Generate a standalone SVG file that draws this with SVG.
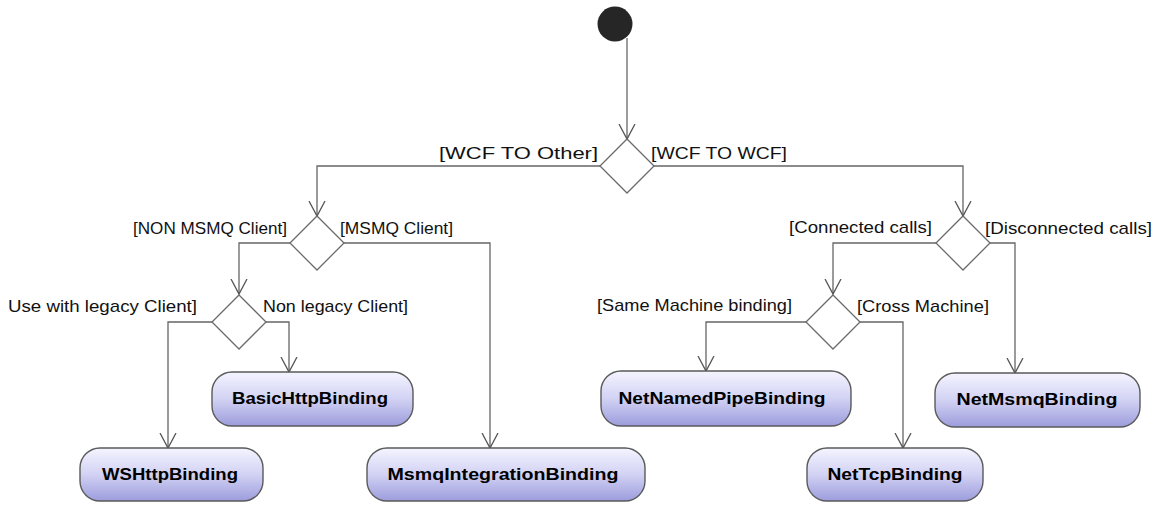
<svg xmlns="http://www.w3.org/2000/svg" width="1156" height="506" viewBox="0 0 1156 506">
  <defs>
    <linearGradient id="actFill" x1="0" y1="0" x2="0" y2="1">
      <stop offset="0" stop-color="#f4f4ff"/>
      <stop offset="0.5" stop-color="#d2d2f4"/>
      <stop offset="1" stop-color="#9c9cdc"/>
    </linearGradient>
    <marker id="open" viewBox="0 0 20 20" refX="15" refY="10" markerWidth="20" markerHeight="20" markerUnits="userSpaceOnUse" orient="auto">
      <path d="M0,2 L15,10 L0,18" fill="none" stroke="#555" stroke-width="1.3"/>
    </marker>
  </defs>
  <style>
    .guard { font-family: "Liberation Sans", Arial, sans-serif; font-size: 17px; fill: #111; }
    .act rect { fill: url(#actFill); stroke: #5a5a5a; stroke-width: 1.4; }
    .act text { font-family: "Liberation Sans", Arial, sans-serif; font-size: 17px; font-weight: bold; fill: #000; text-anchor: middle; }
    .decision polygon { fill: #fff; stroke: #6a6a6a; stroke-width: 1.3; }
    #flows path { fill: none; stroke: #666; stroke-width: 1.3; marker-end: url(#open); }
  </style>
  <rect width="1156" height="506" fill="#fff"/>

  <!-- control flows -->
  <g id="flows">
    <path d="M627,38 V139"/>
    <path d="M600,166 H317 V216"/>
    <path d="M654,166 H963 V216"/>
    <path d="M290,243 H239 V294"/>
    <path d="M343,243 H490 V448"/>
    <path d="M212,322 H168 V448"/>
    <path d="M266,322 H289 V372"/>
    <path d="M937,243 H833 V294"/>
    <path d="M990,243 H1015 V373"/>
    <path d="M807,322 H706 V371"/>
    <path d="M860,322 H903 V448"/>
  </g>

  <!-- initial node -->
  <g id="start">
    <circle cx="615" cy="24" r="17.5" fill="#262626"/>
  </g>

  <!-- decisions -->
  <g id="d-top" class="decision">
    <polygon points="627,139 654,166 627,193 600,166"/>
    <text class="guard" x="598" y="159" text-anchor="end" textLength="159" lengthAdjust="spacingAndGlyphs">[WCF TO Other]</text>
    <text class="guard" x="651" y="159" textLength="136" lengthAdjust="spacingAndGlyphs">[WCF TO WCF]</text>
  </g>
  <g id="d-client" class="decision">
    <polygon points="317,216 344,243 317,270 290,243"/>
    <text class="guard" x="287" y="234" text-anchor="end" textLength="154" lengthAdjust="spacingAndGlyphs">[NON MSMQ Client]</text>
    <text class="guard" x="340" y="234" textLength="113" lengthAdjust="spacingAndGlyphs">[MSMQ Client]</text>
  </g>
  <g id="d-legacy" class="decision">
    <polygon points="239,295 266,322 239,349 212,322"/>
    <text class="guard" x="197" y="312" text-anchor="end" textLength="189" lengthAdjust="spacingAndGlyphs">Use with legacy Client]</text>
    <text class="guard" x="263" y="312" textLength="145" lengthAdjust="spacingAndGlyphs">Non legacy Client]</text>
  </g>
  <g id="d-conn" class="decision">
    <polygon points="963,216 990,243 963,270 936,243"/>
    <text class="guard" x="932" y="233" text-anchor="end" textLength="143" lengthAdjust="spacingAndGlyphs">[Connected calls]</text>
    <text class="guard" x="985" y="234" textLength="167" lengthAdjust="spacingAndGlyphs">[Disconnected calls]</text>
  </g>
  <g id="d-machine" class="decision">
    <polygon points="833,295 860,322 833,349 806,322"/>
    <text class="guard" x="792" y="311" text-anchor="end" textLength="195" lengthAdjust="spacingAndGlyphs">[Same Machine binding]</text>
    <text class="guard" x="857" y="312" textLength="132" lengthAdjust="spacingAndGlyphs">[Cross Machine]</text>
  </g>

  <!-- actions -->
  <g id="basicHttp" class="act">
    <rect x="212" y="372" width="201" height="54" rx="20" ry="20"/>
    <text x="310" y="404" textLength="156" lengthAdjust="spacingAndGlyphs">BasicHttpBinding</text>
  </g>
  <g id="wsHttp" class="act">
    <rect x="80" y="448" width="183" height="53" rx="20" ry="20"/>
    <text x="170" y="480" textLength="136" lengthAdjust="spacingAndGlyphs">WSHttpBinding</text>
  </g>
  <g id="msmqIntegration" class="act">
    <rect x="367" y="448" width="278" height="53" rx="20" ry="20"/>
    <text x="503" y="480" textLength="231" lengthAdjust="spacingAndGlyphs">MsmqIntegrationBinding</text>
  </g>
  <g id="netNamedPipe" class="act">
    <rect x="601" y="371" width="250" height="55" rx="20" ry="20"/>
    <text x="722" y="404" textLength="207" lengthAdjust="spacingAndGlyphs">NetNamedPipeBinding</text>
  </g>
  <g id="netTcp" class="act">
    <rect x="807" y="448" width="176" height="53" rx="20" ry="20"/>
    <text x="895" y="480" textLength="135" lengthAdjust="spacingAndGlyphs">NetTcpBinding</text>
  </g>
  <g id="netMsmq" class="act">
    <rect x="935" y="373" width="205" height="54" rx="20" ry="20"/>
    <text x="1037" y="405" textLength="161" lengthAdjust="spacingAndGlyphs">NetMsmqBinding</text>
  </g>
</svg>
